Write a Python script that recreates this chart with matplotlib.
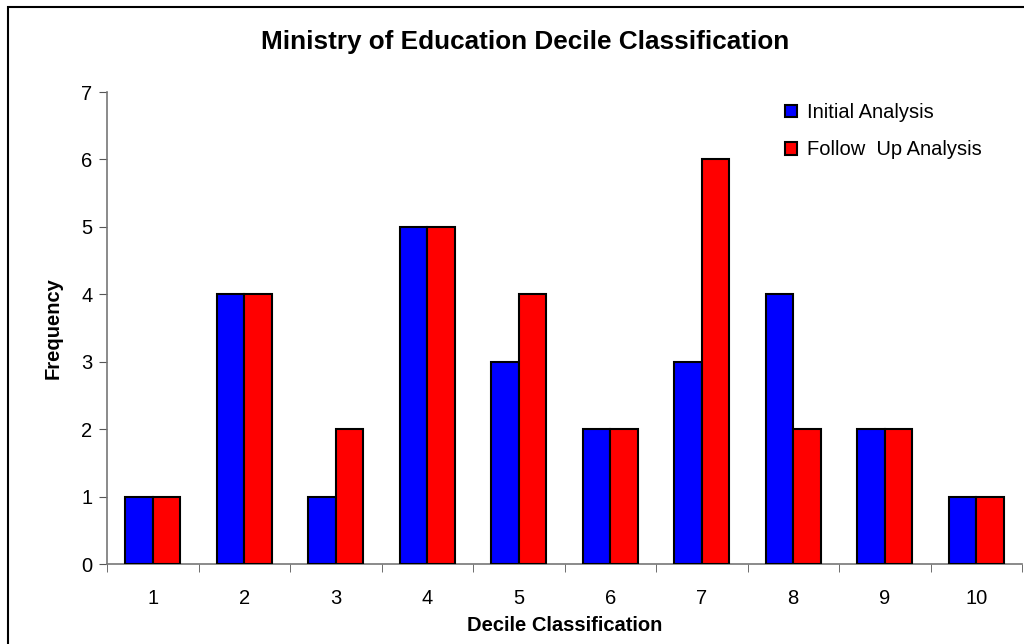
import matplotlib.pyplot as plt
import numpy as np
from matplotlib.patches import Rectangle

plt.rcParams['font.family'] = ['Liberation Sans', 'DejaVu Sans']

# Données
deciles = ['1', '2', '3', '4', '5', '6', '7', '8', '9', '10']
initial = [1, 4, 1, 5, 3, 2, 3, 4, 2, 1]
follow_up = [1, 4, 2, 5, 4, 2, 6, 2, 2, 1]
y_ticks = [0, 1, 2, 3, 4, 5, 6, 7]

W, H = 1024, 644
fig = plt.figure(figsize=(W / 100, H / 100), dpi=100)
ax = fig.add_axes([107 / W, 1 - 564 / H, (1022 - 107) / W, (564 - 92) / H])

x = np.arange(1, len(deciles) + 1)
largeur = 0.3
ax.bar(x - largeur / 2, initial, largeur, color='#0000ff', edgecolor='black',
       linewidth=1.5, label='Initial Analysis', zorder=3)
ax.bar(x + largeur / 2, follow_up, largeur, color='#ff0000', edgecolor='black',
       linewidth=1.5, label='Follow  Up Analysis', zorder=3)

ax.set_xlim(0.5, len(deciles) + 0.5)
ax.set_ylim(0, 7)
ax.set_yticks(y_ticks)
ax.set_xticks(x)
ax.set_xticklabels(deciles)
ax.set_xticks(np.arange(0.5, len(deciles) + 1), minor=True)
ax.tick_params(axis='x', which='major', length=0, pad=18, labelsize=14.5)
ax.tick_params(axis='x', which='minor', length=6, direction='out', color='#555555')
ax.tick_params(axis='y', length=6, direction='out', color='#555555', labelsize=14.5, pad=4.5)

for s in ['top', 'right']:
    ax.spines[s].set_visible(False)
for s in ['left', 'bottom']:
    ax.spines[s].set_color('#777777')
    ax.spines[s].set_linewidth(1.2)

ax.set_xlabel('Decile Classification', fontsize=14.5, fontweight='bold', labelpad=5.5)
ax.set_ylabel('Frequency', fontsize=14.5, fontweight='bold', labelpad=13)
fig.text(525 / W, 1 - 42 / H, 'Ministry of Education Decile Classification',
         ha='center', va='center', fontsize=18.8, fontweight='bold')

leg = ax.legend(loc='upper left', bbox_to_anchor=(767 / W, 1 - 85 / H),
                bbox_transform=fig.transFigure, frameon=False, fontsize=14.5,
                handlelength=0.6, handleheight=0.6, handletextpad=0.5,
                labelspacing=0.9)

# Cadre de la figure
fig.add_artist(Rectangle((8 / W, -0.1), 1.2, 1 - 7 / H + 0.1, transform=fig.transFigure,
                         fill=False, edgecolor='black', linewidth=1.5, clip_on=False))

fig.savefig('out.png', dpi=100)
